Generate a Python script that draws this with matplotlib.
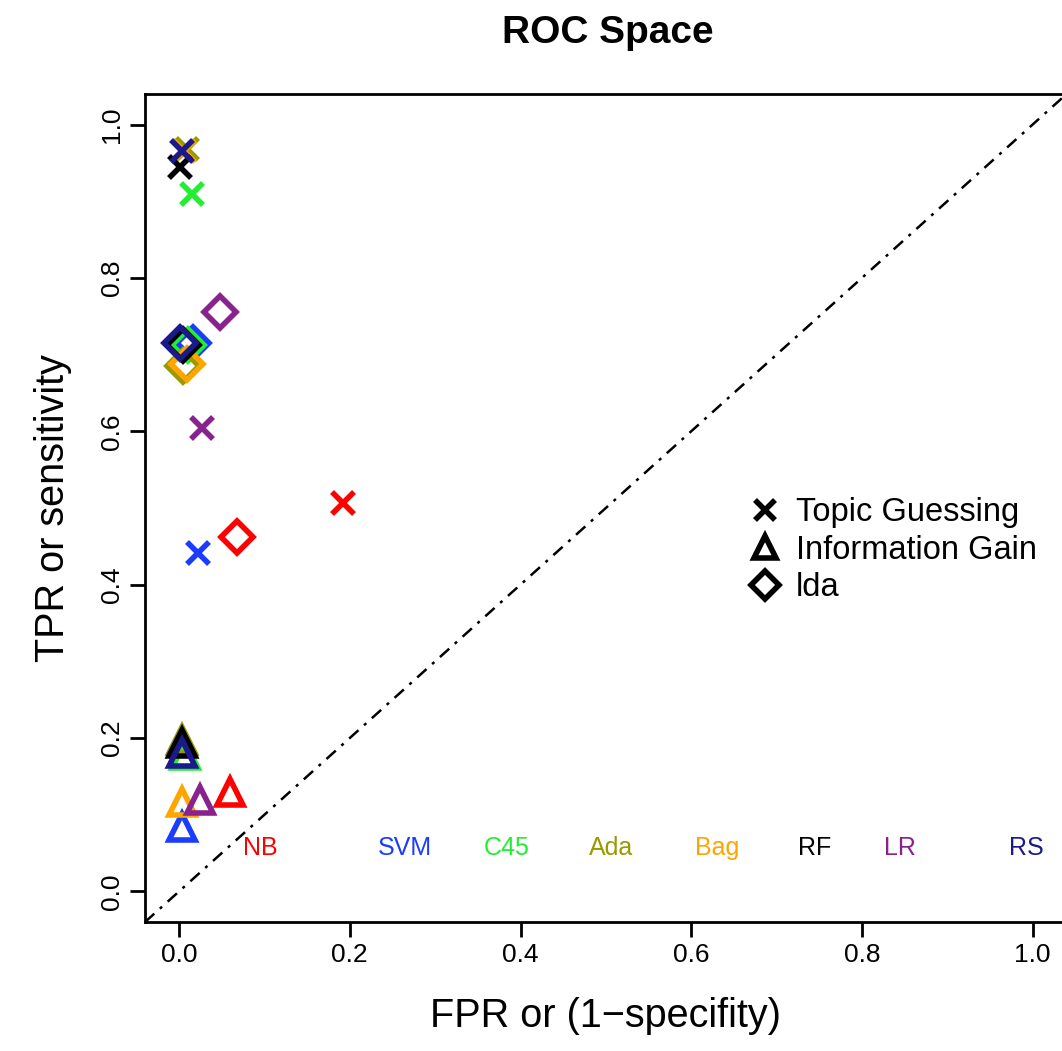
import matplotlib
matplotlib.use("Agg")
import matplotlib.pyplot as plt
from matplotlib.lines import Line2D

plt.rcParams["font.family"] = ["Liberation Sans", "DejaVu Sans"]

methods = ["NB", "SVM", "C45", "Ada", "Bag", "RF", "LR", "RS"]
colors = ["#FF0000", "#1A3CFF", "#22EE33", "#999900", "#FFA500", "#000000", "#88228C", "#1A1A8C"]

# Topic Guessing (x marker)
tg_fpr = [0.192, 0.022, 0.015, 0.009, 0.006, 0.001, 0.027, 0.003]
tg_tpr = [0.506, 0.441, 0.909, 0.968, 0.965, 0.944, 0.604, 0.965]

# Information Gain (triangle)
ig_fpr = [0.060, 0.003, 0.007, 0.003, 0.003, 0.003, 0.024, 0.003]
ig_tpr = [0.129, 0.084, 0.178, 0.197, 0.116, 0.194, 0.119, 0.180]

# lda (diamond)
lda_fpr = [0.068, 0.016, 0.010, 0.005, 0.009, 0.005, 0.048, 0.001]
lda_tpr = [0.462, 0.715, 0.712, 0.685, 0.688, 0.713, 0.756, 0.715]

label_x = [0.095, 0.265, 0.384, 0.506, 0.630, 0.745, 0.844, 0.993]
label_y = 0.057

fig = plt.figure(figsize=(10.62, 10.51), dpi=100)
ax = fig.add_axes([0.1365, 0.1227, 0.868, 0.788])

ax.plot([-0.04, 1.04], [-0.04, 1.04], color="black", linewidth=1.8,
        dashes=(5, 3, 1.2, 3))

for i in range(len(methods)):
    ax.plot(ig_fpr[i], ig_tpr[i], marker="^", markersize=19, markerfacecolor="none",
            markeredgecolor=colors[i], markeredgewidth=4, linestyle="none")
for i in range(len(methods)):
    ax.plot(lda_fpr[i], lda_tpr[i], marker="D", markersize=16, markerfacecolor="none",
            markeredgecolor=colors[i], markeredgewidth=4, linestyle="none")
for i in range(len(methods)):
    ax.plot(tg_fpr[i], tg_tpr[i], marker="x", markersize=16,
            markeredgecolor=colors[i], markeredgewidth=4, linestyle="none")

for i, m in enumerate(methods):
    ax.text(label_x[i], label_y, m, color=colors[i], fontsize=18, ha="center", va="center")

handles = [
    Line2D([], [], marker="x", color="black", markersize=15, markeredgewidth=4, linestyle="none"),
    Line2D([], [], marker="^", color="black", markerfacecolor="none", markersize=16, markeredgewidth=4, linestyle="none"),
    Line2D([], [], marker="D", color="black", markerfacecolor="none", markersize=14, markeredgewidth=4, linestyle="none"),
]
ax.legend(handles, ["Topic Guessing", "Information Gain", "lda"], loc="center left",
          bbox_to_anchor=(0.655, 0.449), frameon=False, fontsize=23.5,
          borderpad=0, borderaxespad=0,
          handletextpad=0.45, labelspacing=0.2, handlelength=1.0)

ax.set_xlim(-0.04, 1.04)
ax.set_ylim(-0.04, 1.04)
ticks = [0.0, 0.2, 0.4, 0.6, 0.8, 1.0]
ax.set_xticks(ticks)
ax.set_yticks(ticks)
ax.set_xticklabels([f"{t:.1f}" for t in ticks], fontsize=19)
ax.set_yticklabels([f"{t:.1f}" for t in ticks], fontsize=19, rotation=90, va="center")
ax.tick_params(length=11, width=2, pad=4)
for s in ax.spines.values():
    s.set_linewidth(2)

ax.set_xlabel("FPR or (1\u2212specifity)", fontsize=28.5, labelpad=22)
ax.set_ylabel("TPR or sensitivity", fontsize=28.5, labelpad=20)
fig.text(0.572, 0.969, "ROC Space", fontsize=28, fontweight="bold", ha="center", va="center")

fig.savefig("out.png", dpi=100)
